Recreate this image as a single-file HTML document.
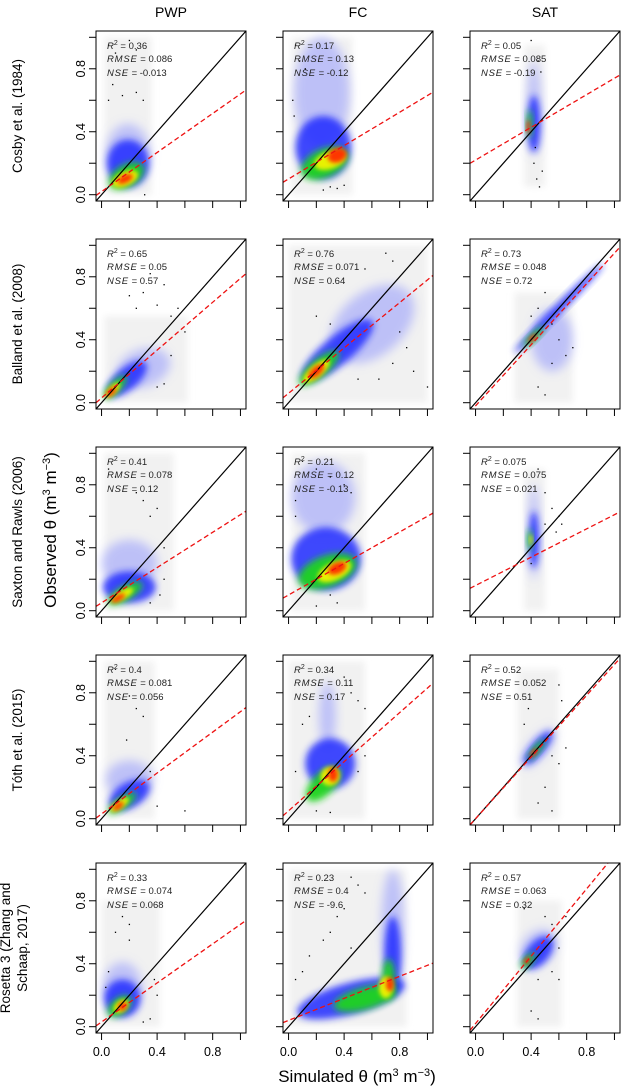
<!DOCTYPE html>
<html><head><meta charset="utf-8">
<style>
html,body{margin:0;padding:0;background:#fff;}
svg{display:block;font-family:"Liberation Sans",sans-serif;}
</style></head>
<body>
<svg id="chart" width="622" height="1088" viewBox="0 0 622 1088" xmlns="http://www.w3.org/2000/svg">
<defs>
<filter id="blur5" x="-50%" y="-50%" width="200%" height="200%"><feGaussianBlur stdDeviation="5"/></filter>
<filter id="blur4" x="-50%" y="-50%" width="200%" height="200%"><feGaussianBlur stdDeviation="3.5"/></filter>
<filter id="blur2" x="-50%" y="-50%" width="200%" height="200%"><feGaussianBlur stdDeviation="2.2"/></filter>
</defs>
<g id="panels"></g>
<text x="171" y="17" font-size="14" text-anchor="middle">PWP</text>
<text x="358" y="17" font-size="14" text-anchor="middle">FC</text>
<text x="545" y="17" font-size="14" text-anchor="middle">SAT</text>
<text transform="translate(56,530) rotate(-90)" font-size="17" text-anchor="middle">Observed θ (m<tspan baseline-shift="super" font-size="11">3</tspan> m<tspan baseline-shift="super" font-size="11">−3</tspan>)</text>
<text x="357" y="1082" font-size="17" text-anchor="middle">Simulated θ (m<tspan baseline-shift="super" font-size="11">3</tspan> m<tspan baseline-shift="super" font-size="11">−3</tspan>)</text>
</svg>
<script>
const rowLabels = [["Cosby et al. (1984)"],["Balland et al. (2008)"],["Saxton and Rawls  (2006)"],["Tóth et al. (2015)"],["Rosetta 3 (Zhang and","Schaap, 2017)"]];
const r2Vals = ["0.36","0.17","0.05","0.65","0.76","0.73","0.41","0.21","0.075","0.4","0.34","0.52","0.33","0.23","0.57"];
const rmseVals = ["0.086","0.13","0.085","0.05","0.071","0.048","0.078","0.12","0.075","0.081","0.11","0.052","0.074","0.4","0.063"];
const nseVals = ["-0.013","-0.12","-0.19","0.57","0.64","0.72","0.12","-0.13","0.021","0.056","0.17","0.51","0.068","-9.6","0.32"];
const fitIntercepts = [0.02,0.10,0.22, 0.03,0.06,-0.02, 0.05,0.10,0.16, 0.03,0.05,0.0, 0.03,0.04,0.02];
const fitSlopes = [0.62,0.53,0.52, 0.76,0.72,0.97, 0.56,0.50,0.45, 0.65,0.78,0.98, 0.62,0.35,1.07];
const tickVals = [0,0.2,0.4,0.6,0.8,1.0];
const tickLabels = {0:"0.0",0.4:"0.4",0.8:"0.8"};
// gray haze extents [x0,x1,y0,y1]
const hazeBoxes = [
 [0.02,0.36,0,1.0],[0.02,0.46,0,1.0],[0.35,0.5,0.05,0.95],
 [0.02,0.62,0,0.55],[0,1.0,0,1.0],[0.28,0.7,0,0.7],
 [0.02,0.52,0,1.0],[0.02,0.55,0,1.0],[0.35,0.5,0,0.9],
 [0.02,0.38,0,1.0],[0,0.55,0,1.0],[0.3,0.6,0,0.95],
 [0,0.42,0,0.8],[0,0.85,0,1.0],[0.3,0.62,0,0.8]];
// density blobs per panel: [cx, cy, rx, ry, angle, level]
const blobs = [
 [[0.19,0.25,0.16,0.2,0,5],[0.19,0.2,0.15,0.15,0,1],[0.18,0.12,0.14,0.07,-30,2],[0.17,0.1,0.1,0.045,-25,3],[0.17,0.1,0.06,0.025,-25,4]],
 [[0.24,0.65,0.2,0.35,0,5],[0.25,0.3,0.2,0.2,0,1],[0.26,0.2,0.18,0.09,-25,2],[0.3,0.22,0.12,0.055,-20,3],[0.35,0.25,0.07,0.045,-20,4]],
 [[0.42,0.55,0.05,0.3,0,5],[0.42,0.45,0.045,0.18,0,1],[0.39,0.45,0.02,0.09,0,2],[0.38,0.43,0.012,0.045,0,4]],
 [[0.3,0.22,0.2,0.12,-20,5],[0.18,0.15,0.18,0.07,-40,1],[0.1,0.1,0.11,0.035,-45,2],[0.08,0.08,0.07,0.025,-45,3],[0.07,0.07,0.045,0.018,-45,4]],
 [[0.6,0.5,0.35,0.2,-40,5],[0.35,0.33,0.33,0.09,-40,1],[0.22,0.22,0.18,0.055,-40,2],[0.2,0.2,0.12,0.04,-40,3],[0.2,0.2,0.07,0.028,-40,4]],
 [[0.55,0.4,0.15,0.2,0,5],[0.6,0.6,0.45,0.028,-45,1],[0.42,0.42,0.1,0.022,-45,2],[0.41,0.41,0.04,0.014,-45,4]],
 [[0.2,0.3,0.2,0.15,0,5],[0.2,0.15,0.19,0.1,0,1],[0.17,0.11,0.14,0.045,-30,2],[0.15,0.1,0.09,0.028,-30,3],[0.12,0.08,0.055,0.018,-30,4]],
 [[0.25,0.72,0.23,0.23,0,5],[0.27,0.33,0.25,0.2,0,1],[0.28,0.25,0.22,0.1,-20,2],[0.33,0.25,0.13,0.055,-25,3],[0.35,0.27,0.07,0.035,-25,4]],
 [[0.42,0.5,0.04,0.3,0,5],[0.42,0.45,0.035,0.18,0,1],[0.39,0.45,0.018,0.07,0,2],[0.4,0.45,0.01,0.035,0,3]],
 [[0.2,0.25,0.17,0.12,0,5],[0.2,0.15,0.16,0.08,-30,1],[0.15,0.1,0.12,0.035,-35,2],[0.13,0.09,0.08,0.026,-35,3],[0.12,0.08,0.045,0.018,-35,4]],
 [[0.28,0.65,0.06,0.22,0,5],[0.3,0.35,0.18,0.16,0,1],[0.25,0.22,0.16,0.07,-45,2],[0.3,0.27,0.07,0.06,-45,3],[0.32,0.28,0.035,0.045,0,4]],
 [[0.45,0.45,0.17,0.06,-50,5],[0.45,0.45,0.15,0.04,-50,1],[0.44,0.44,0.09,0.022,-50,2],[0.42,0.42,0.035,0.013,-50,4]],
 [[0.15,0.25,0.14,0.16,0,5],[0.15,0.18,0.13,0.12,0,1],[0.13,0.13,0.1,0.05,-40,2],[0.14,0.13,0.06,0.035,-40,3],[0.15,0.13,0.035,0.025,-40,4]],
 [[0.75,0.65,0.08,0.35,0,5],[0.45,0.18,0.4,0.1,-15,1],[0.75,0.45,0.06,0.25,0,1],[0.55,0.18,0.23,0.07,-15,2],[0.72,0.3,0.045,0.13,0,2],[0.7,0.25,0.05,0.07,0,3],[0.73,0.27,0.028,0.045,0,4]],
 [[0.45,0.5,0.15,0.1,-50,5],[0.45,0.47,0.14,0.07,-50,1],[0.38,0.42,0.07,0.028,-50,2],[0.37,0.42,0.028,0.014,-50,4]]];
// outlier points per panel [x,y]
const outliers = [
 [[0.05,0.95],[0.1,0.9],[0.2,0.98],[0.25,0.92],[0.05,0.6],[0.08,0.7],[0.3,0.6],[0.25,0.65],[0.15,0.63],[0.31,0.0]],
 [[0.05,0.95],[0.08,0.85],[0.12,0.8],[0.03,0.6],[0.04,0.5],[0.3,0.05],[0.25,0.03],[0.35,0.04],[0.4,0.06]],
 [[0.4,0.98],[0.45,0.85],[0.47,0.78],[0.42,0.2],[0.44,0.1],[0.46,0.05],[0.43,0.3],[0.48,0.15]],
 [[0.35,0.82],[0.45,0.75],[0.3,0.7],[0.4,0.62],[0.5,0.55],[0.55,0.6],[0.6,0.45],[0.5,0.3],[0.45,0.12],[0.4,0.1],[0.2,0.68],[0.25,0.6]],
 [[0.7,0.95],[0.75,0.9],[0.55,0.85],[0.3,0.5],[0.2,0.55],[0.8,0.45],[0.85,0.35],[0.75,0.25],[0.9,0.2],[0.65,0.15],[0.5,0.15],[1.0,0.1]],
 [[0.5,0.7],[0.45,0.6],[0.55,0.5],[0.6,0.4],[0.65,0.3],[0.55,0.25],[0.45,0.1],[0.5,0.05],[0.7,0.35],[0.4,0.55]],
 [[0.05,0.9],[0.1,0.85],[0.25,0.75],[0.3,0.7],[0.35,0.6],[0.4,0.65],[0.45,0.4],[0.42,0.1],[0.35,0.05],[0.45,0.2]],
 [[0.1,0.95],[0.2,0.9],[0.3,0.85],[0.4,0.8],[0.45,0.75],[0.05,0.7],[0.05,0.6],[0.3,0.1],[0.35,0.05],[0.2,0.03]],
 [[0.45,0.9],[0.5,0.75],[0.55,0.65],[0.6,0.6],[0.5,0.55],[0.58,0.5],[0.62,0.55],[0.4,0.3]],
 [[0.1,0.95],[0.15,0.85],[0.2,0.78],[0.25,0.7],[0.3,0.65],[0.18,0.5],[0.35,0.3],[0.4,0.08],[0.6,0.05]],
 [[0.4,0.9],[0.45,0.8],[0.5,0.75],[0.55,0.7],[0.1,0.6],[0.15,0.65],[0.05,0.3],[0.2,0.05],[0.3,0.04],[0.5,0.3],[0.55,0.4]],
 [[0.6,0.85],[0.62,0.75],[0.35,0.6],[0.38,0.7],[0.55,0.4],[0.6,0.35],[0.5,0.2],[0.45,0.1],[0.55,0.05],[0.65,0.45]],
 [[0.15,0.7],[0.2,0.65],[0.1,0.6],[0.2,0.55],[0.05,0.35],[0.03,0.25],[0.38,0.3],[0.4,0.2],[0.3,0.03],[0.35,0.05]],
 [[0.45,0.95],[0.5,0.9],[0.55,0.85],[0.4,0.75],[0.35,0.7],[0.3,0.6],[0.25,0.55],[0.1,0.35],[0.05,0.3],[0.45,0.5],[0.15,0.45]],
 [[0.5,0.7],[0.55,0.65],[0.65,0.7],[0.6,0.5],[0.55,0.35],[0.45,0.3],[0.4,0.1],[0.45,0.05],[0.35,0.75],[0.6,0.3]]];

const levelColors = ["#dcdcdc","#1f2cff","#1ed41e","#f2f200","#ff2a00","#7f86ff"];
const levelOpac = [0.7,0.85,0.95,0.95,0.95,0.45];
const NS="http://www.w3.org/2000/svg";
const root=document.getElementById('panels');
const PW=150, PH=170, LEFT0=96, TOP0=31, DX=187, DY=208;
function mk(tag,attrs,parent){const e=document.createElementNS(NS,tag);for(const k in attrs)e.setAttribute(k,attrs[k]);(parent||root).appendChild(e);return e;}

for(let r=0;r<5;r++){
 const ty=TOP0+DY*r+PH/2;
 const two=rowLabels[r].length>1;
 const lab=mk('text',{transform:`translate(${two?10:22},${ty}) rotate(-90)`,'font-size':'13.5','text-anchor':'middle'});
 
 
 rowLabels[r].forEach((s,i)=>{const t=mk('tspan',{x:0,dy:i?17:0},lab);t.textContent=s;});
 for(let c=0;c<3;c++){
  const p=r*3+c, L=LEFT0+DX*c, T=TOP0+DY*r;
  const sx=v=>L+(v+0.04)/1.08*PW, sy=v=>T+PH-(v+0.04)/1.08*PH;
  const g=mk('g',{});
  
  
  const cp=mk('clipPath',{id:'cp'+p},g);
  mk('rect',{x:L,y:T,width:PW,height:PH},cp);
  const inner=mk('g',{'clip-path':`url(#cp${p})`},g);
  const hb=hazeBoxes[p];
  const haze=mk('rect',{x:sx(hb[0]),y:sy(hb[3]),width:sx(hb[1])-sx(hb[0]),height:sy(hb[2])-sy(hb[3]),fill:'#f1f1f1',filter:'url(#blur4)'},inner);
  
  
  blobs[p].forEach(b=>{
   const cx=sx(b[0]),cy=sy(b[1]),rx=b[2]/1.08*PW,ry=b[3]/1.08*PH;
   const f=b[5]===5?'url(#blur5)':(b[5]>=3?'url(#blur2)':'url(#blur4)');
   const e=mk('ellipse',{cx:cx,cy:cy,rx:rx,ry:ry,transform:`rotate(${b[4]} ${cx} ${cy})`,fill:levelColors[b[5]],'fill-opacity':levelOpac[b[5]],filter:f},inner);
   
   
  });
  outliers[p].forEach(o=>{
   const d=mk('rect',{x:sx(o[0])-0.6,y:sy(o[1])-0.6,width:1.3,height:1.3,fill:'#000'},inner);
   
   
  });
  const one=mk('line',{x1:sx(-0.04),y1:sy(-0.04),x2:sx(1.04),y2:sy(1.04),stroke:'#000','stroke-width':1.2},inner);
  
  
  const a=fitIntercepts[p],b=fitSlopes[p];
  const fit=mk('line',{x1:sx(-0.04),y1:sy(a+b*-0.04),x2:sx(1.04),y2:sy(a+b*1.04),stroke:'#ee1111','stroke-width':1.3,'stroke-dasharray':'5,3'},inner);
  
  
  const box=mk('rect',{x:L,y:T,width:PW,height:PH,fill:'none',stroke:'#000','stroke-width':1},g);
  
  
  tickVals.forEach(v=>{
   mk('line',{x1:L-7,x2:L,y1:sy(v),y2:sy(v),stroke:'#000','stroke-width':1},g);
   mk('line',{x1:sx(v),x2:sx(v),y1:T+PH,y2:T+PH+7,stroke:'#000','stroke-width':1},g);
   if(c===0 && tickLabels[v]!==undefined){
    const t=mk('text',{transform:`translate(${L-11},${sy(v)}) rotate(-90)`,'font-size':'12.5','text-anchor':'middle'},g);
    
    
    t.textContent=tickLabels[v];
   }
   if(r===4 && tickLabels[v]!==undefined){
    const t=mk('text',{x:sx(v),y:T+PH+23,'font-size':'12.5','text-anchor':'middle'},g);
    
    
    t.textContent=tickLabels[v];
   }
  });
  const st=mk('text',{x:L+11,y:T+18,'font-size':'9.5',fill:'#222'},g);
  
  
  st.innerHTML=`<tspan font-style="italic">R</tspan><tspan dy="-4" font-size="7">2</tspan><tspan dy="4"> = ${r2Vals[p]}</tspan>`;
  const s2=mk('text',{x:L+11,y:T+31,'font-size':'9.5',fill:'#222'},g);
  
  
  s2.innerHTML=`<tspan font-style="italic" letter-spacing="0.8">RMSE</tspan> = ${rmseVals[p]}`;
  const s3=mk('text',{x:L+11,y:T+45,'font-size':'9.5',fill:'#222'},g);
  
  
  s3.innerHTML=`<tspan font-style="italic" letter-spacing="0.8">NSE</tspan> = ${nseVals[p]}`;
 }
}
</script>
</body></html>
